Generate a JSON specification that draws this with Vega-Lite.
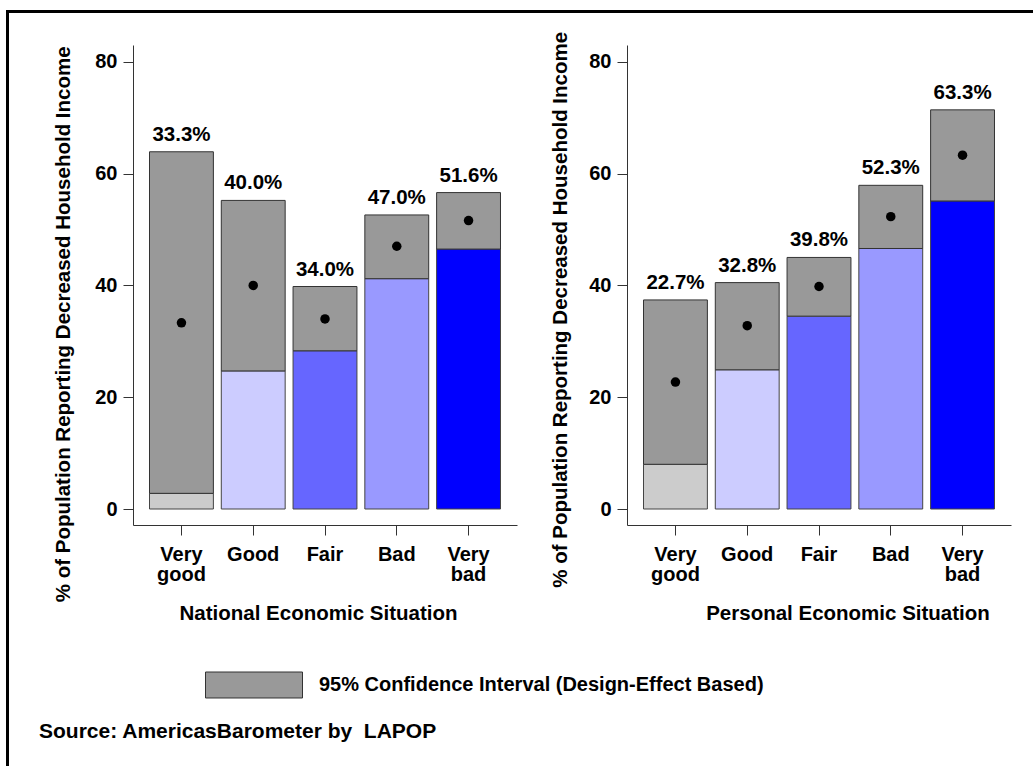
{
  "$schema": "https://vega.github.io/schema/vega-lite/v6.json",
  "background": "white",
  "padding": {"left": 6, "top": 10, "right": 0, "bottom": 0},
  "datasets": {
    "d": [
      {"panel": "National", "category": "Very good", "lo": 2.8, "hi": 63.9, "mean": 33.3, "label": "33.3%"},
      {"panel": "National", "category": "Good", "lo": 24.7, "hi": 55.2, "mean": 40.0, "label": "40.0%"},
      {"panel": "National", "category": "Fair", "lo": 28.3, "hi": 39.8, "mean": 34.0, "label": "34.0%"},
      {"panel": "National", "category": "Bad", "lo": 41.2, "hi": 52.6, "mean": 47.0, "label": "47.0%"},
      {"panel": "National", "category": "Very bad", "lo": 46.5, "hi": 56.6, "mean": 51.6, "label": "51.6%"},
      {"panel": "Personal", "category": "Very good", "lo": 8.0, "hi": 37.4, "mean": 22.7, "label": "22.7%"},
      {"panel": "Personal", "category": "Good", "lo": 24.9, "hi": 40.5, "mean": 32.8, "label": "32.8%"},
      {"panel": "Personal", "category": "Fair", "lo": 34.5, "hi": 45.0, "mean": 39.8, "label": "39.8%"},
      {"panel": "Personal", "category": "Bad", "lo": 46.6, "hi": 57.9, "mean": 52.3, "label": "52.3%"},
      {"panel": "Personal", "category": "Very bad", "lo": 55.1, "hi": 71.4, "mean": 63.3, "label": "63.3%"}
    ],
    "empty": []
  },
  "config": {
    "font": "Liberation Sans",
    "view": {"stroke": null},
    "axis": {
      "labelFont": "Liberation Sans", "labelFontWeight": "bold", "labelFontSize": 20, "labelColor": "#000",
      "titleFont": "Liberation Sans", "titleFontWeight": "bold", "titleFontSize": 20.5, "titleColor": "#000",
      "domainColor": "#333", "tickColor": "#333", "tickSize": 10, "grid": false, "domainWidth": 1, "tickWidth": 1
    }
  },
  "title": {
    "text": "Source: AmericasBarometer by \u00a0LAPOP",
    "orient": "bottom", "anchor": "start", "frame": "group",
    "font": "Liberation Sans", "fontSize": 21, "fontWeight": "bold", "color": "#000",
    "offset": 0, "dx": 32, "dy": -45
  },
  "spacing": 0,
  "bounds": "flush",
  "hconcat": [
    {
      "width": 1, "height": 754,
      "data": {"name": "empty"},
      "mark": {"type": "point", "size": 0},
      "encoding": {},
      "view": {"stroke": "#000", "strokeWidth": 2}
    },
    {
      "spacing": 33,
      "bounds": "flush",
      "vconcat": [
        {
          "width": 1024, "height": 1,
          "data": {"name": "empty"},
          "mark": {"type": "point", "size": 0},
          "encoding": {},
          "view": {"stroke": "#000", "strokeWidth": 2}
        },
        {
          "spacing": 124,
          "bounds": "flush",
          "hconcat": [
            {
              "width": 1, "height": 1,
              "data": {"name": "empty"},
              "mark": {"type": "point", "size": 0},
              "encoding": {}
            },
            {
              "spacing": 110,
              "bounds": "flush",
              "hconcat": [
                {
                  "width": 384, "height": 480,
                  "data": {"name": "d"},
                  "transform": [{"filter": "datum.panel == 'National'"}],
                  "encoding": {
                    "x": {
                      "field": "category", "type": "nominal",
                      "sort": ["Very good", "Good", "Fair", "Bad", "Very bad"],
                      "scale": {"paddingInner": 0.11, "paddingOuter": 0.23},
                      "axis": {
                        "title": "National Economic Situation", "labelAngle": 0,
                        "labelExpr": "split(datum.label, ' ')", "labelLineHeight": 20, "labelPadding": 9,
                        "titleX": 185, "titleY": 94, "titleBaseline": "alphabetic", "titleAlign": "center", "titleAnchor": null
                      }
                    }
                  },
                  "layer": [
                    {
                      "mark": {"type": "bar", "stroke": "#444", "strokeWidth": 1},
                      "encoding": {
                        "y": {
                          "field": "lo", "type": "quantitative",
                          "scale": {"domain": [-2.86, 83], "nice": false, "zero": false},
                          "axis": {
                            "title": "% of Population Reporting Decreased Household Income",
                            "values": [0, 20, 40, 60, 80], "labelPadding": 6,
                            "titleX": -70, "titleY": 278.8, "titleAlign": "center", "titleBaseline": "middle", "titleAnchor": null, "titleAngle": 270
                          }
                        },
                        "y2": {"datum": 0},
                        "color": {
                          "field": "category", "type": "nominal",
                          "scale": {"domain": ["Very good", "Good", "Fair", "Bad", "Very bad"], "range": ["#cccccc", "#ccccff", "#6666ff", "#9999ff", "#0000ff"]},
                          "legend": null
                        }
                      }
                    },
                    {
                      "mark": {"type": "bar", "stroke": "#333", "strokeWidth": 1},
                      "encoding": {
                        "y": {"field": "lo", "type": "quantitative"},
                        "y2": {"field": "hi"},
                        "fill": {
                          "datum": "95% Confidence Interval (Design-Effect Based)",
                          "scale": {"range": ["#999999"]},
                          "legend": {
                            "orient": "none", "legendX": 198, "legendY": 625, "title": null,
                            "symbolType": "M-1,-0.268L1,-0.268L1,0.268L-1,0.268Z", "symbolSize": 9409,
                            "symbolStrokeColor": "#333", "symbolStrokeWidth": 1,
                            "labelFont": "Liberation Sans", "labelFontSize": 20, "labelFontWeight": "bold", "labelColor": "#000",
                            "labelOffset": 16, "labelLimit": 600
                          }
                        }
                      }
                    },
                    {
                      "mark": {"type": "circle", "color": "#000", "opacity": 1, "size": 90},
                      "encoding": {"y": {"field": "mean", "type": "quantitative"}}
                    },
                    {
                      "mark": {"type": "text", "dy": -11, "baseline": "alphabetic", "fontSize": 20.5, "fontWeight": "bold", "font": "Liberation Sans", "color": "#000"},
                      "encoding": {"y": {"field": "hi", "type": "quantitative"}, "text": {"field": "label"}}
                    }
                  ]
                },
                {
                  "width": 384, "height": 480,
                  "data": {"name": "d"},
                  "transform": [{"filter": "datum.panel == 'Personal'"}],
                  "encoding": {
                    "x": {
                      "field": "category", "type": "nominal",
                      "sort": ["Very good", "Good", "Fair", "Bad", "Very bad"],
                      "scale": {"paddingInner": 0.11, "paddingOuter": 0.23},
                      "axis": {
                        "title": "Personal Economic Situation", "labelAngle": 0,
                        "labelExpr": "split(datum.label, ' ')", "labelLineHeight": 20, "labelPadding": 9,
                        "titleX": 220.5, "titleY": 94, "titleBaseline": "alphabetic", "titleAlign": "center", "titleAnchor": null
                      }
                    }
                  },
                  "layer": [
                    {
                      "mark": {"type": "bar", "stroke": "#444", "strokeWidth": 1},
                      "encoding": {
                        "y": {
                          "field": "lo", "type": "quantitative",
                          "scale": {"domain": [-2.86, 83], "nice": false, "zero": false},
                          "axis": {
                            "title": "% of Population Reporting Decreased Household Income",
                            "values": [0, 20, 40, 60, 80], "labelPadding": 6,
                            "titleX": -67, "titleY": 264.3, "titleAlign": "center", "titleBaseline": "middle", "titleAnchor": null, "titleAngle": 270
                          }
                        },
                        "y2": {"datum": 0},
                        "color": {
                          "field": "category", "type": "nominal",
                          "scale": {"domain": ["Very good", "Good", "Fair", "Bad", "Very bad"], "range": ["#cccccc", "#ccccff", "#6666ff", "#9999ff", "#0000ff"]},
                          "legend": null
                        }
                      }
                    },
                    {
                      "mark": {"type": "bar", "stroke": "#333", "strokeWidth": 1},
                      "encoding": {
                        "y": {"field": "lo", "type": "quantitative"},
                        "y2": {"field": "hi"},
                        "fill": {"datum": "95% Confidence Interval (Design-Effect Based)"}
                      }
                    },
                    {
                      "mark": {"type": "circle", "color": "#000", "opacity": 1, "size": 90},
                      "encoding": {"y": {"field": "mean", "type": "quantitative"}}
                    },
                    {
                      "mark": {"type": "text", "dy": -11, "baseline": "alphabetic", "fontSize": 20.5, "fontWeight": "bold", "font": "Liberation Sans", "color": "#000"},
                      "encoding": {"y": {"field": "hi", "type": "quantitative"}, "text": {"field": "label"}}
                    }
                  ]
                }
              ]
            }
          ]
        }
      ]
    }
  ]
}
